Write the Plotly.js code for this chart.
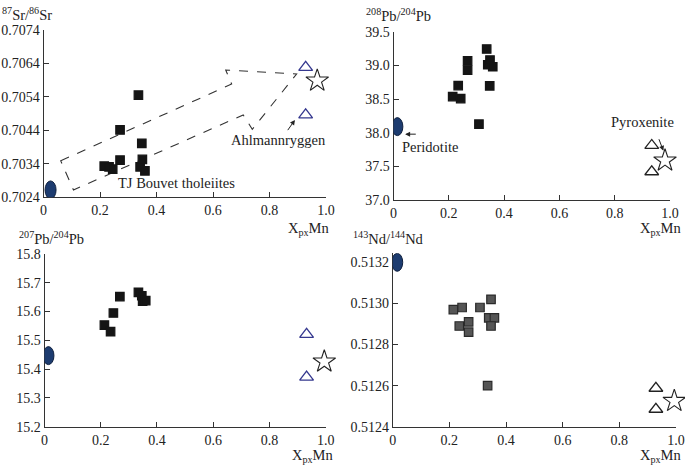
<!DOCTYPE html>
<html>
<head>
<meta charset="utf-8">
<script src="https://cdn.plot.ly/plotly-3.0.1.min.js"></script>
<style>html,body{margin:0;padding:0;background:#fff}#chart{width:685px;height:466px}</style>
</head>
<body>
<div id="chart"></div>
<script>
// ---- Data ----
const xTicks = [0, 0.2, 0.4, 0.6, 0.8, 1.0];
const xTickText = ['0', '0.2', '0.4', '0.6', '0.8', '1.0'];

// TJ Bouvet tholeiites (squares)
const srX = [0.336, 0.271, 0.348, 0.271, 0.350, 0.215, 0.232, 0.245, 0.342, 0.359];
const srY = [0.70545, 0.70441, 0.70401, 0.70351, 0.70353, 0.70333, 0.70331, 0.70324, 0.70331, 0.70319];
const pb8X = [0.214, 0.234, 0.243, 0.268, 0.268, 0.309, 0.337, 0.341, 0.349, 0.348, 0.359];
const pb8Y = [38.537, 38.70, 38.507, 39.068, 38.93, 38.126, 39.243, 39.009, 39.079, 38.696, 38.979];
const pb7X = [0.213, 0.235, 0.245, 0.268, 0.334, 0.346, 0.349, 0.360];
const pb7Y = [15.553, 15.530, 15.595, 15.652, 15.667, 15.655, 15.636, 15.638];
const ndX = [0.214, 0.245, 0.235, 0.268, 0.268, 0.308, 0.347, 0.339, 0.359, 0.347, 0.335];
const ndY = [0.51297, 0.51298, 0.51289, 0.51291, 0.51286, 0.51298, 0.51302, 0.51293, 0.51293, 0.51289, 0.51260];

// Peridotite (ellipse) [x, y] per panel
const peridotiteSr = [0.025, 0.70262];
const peridotitePb8 = [0.014, 38.09];
const peridotitePb7 = [0.014, 15.447];
const peridotiteNd = [0.016, 0.5132];

// Ahlmannryggen (triangles)
const ahlSrX = [0.928, 0.928], ahlSrY = [0.70628, 0.70486];
const ahlPb8X = [0.934, 0.934], ahlPb8Y = [37.81, 37.42];
const ahlPb7X = [0.932, 0.932], ahlPb7Y = [15.521, 15.372];
const ahlNdX = [0.929, 0.929], ahlNdY = [0.512587, 0.512485];

// Pyroxenite (star)
const pyxSr = [0.969, 0.70588];
const pyxPb8 = [0.982, 37.585];
const pyxPb7 = [0.995, 15.426];
const pyxNd = [0.994, 0.512525];

// Dashed arrow outline (panel 1), data coordinates
const arrowPolyX = [0.061, 0.666, 0.645, 0.896, 0.739, 0.707, 0.106];
const arrowPolyY = [0.70349, 0.70578, 0.70620, 0.70608, 0.70443, 0.70486, 0.70262];

// ---- Styles ----
const FONT = 'Liberation Serif';
const FS = 14.5;   // annotation text
const TFS = 14;    // tick labels
const INK = '#222';
const BLUE = '#35388f';

function sq(x, y, ax, fill, line) {
  return {x: x, y: y, xaxis: 'x' + ax, yaxis: 'y' + ax, type: 'scatter', mode: 'markers', cliponaxis: false,
    marker: {symbol: 'square', size: 8.5, color: fill, line: {color: line, width: 1.2}}, hoverinfo: 'skip'};
}
function tri(x, y, ax, col) {
  return {x: x, y: y, xaxis: 'x' + ax, yaxis: 'y' + ax, type: 'scatter', mode: 'markers', cliponaxis: false,
    marker: {symbol: 'triangle-up-open', size: 12, color: col, line: {color: col, width: 1.3}}, hoverinfo: 'skip'};
}
function star(p, ax) {
  return {x: [p[0]], y: [p[1]], xaxis: 'x' + ax, yaxis: 'y' + ax, type: 'scatter', mode: 'markers', cliponaxis: false,
    marker: {symbol: 'star-open', size: 17, color: INK, line: {color: INK, width: 1.1}}, hoverinfo: 'skip'};
}
function ellipse(p, ax) {
  return {type: 'circle', xref: 'x' + ax, yref: 'y' + ax, xsizemode: 'pixel', ysizemode: 'pixel',
    xanchor: p[0], yanchor: p[1], x0: -5.5, x1: 5.5, y0: -9, y1: 9,
    fillcolor: '#1d3c70', line: {color: '#0e1f3d', width: 1}, layer: 'above'};
}

const data = [
  sq(srX, srY, '', '#151515', '#151515'),
  tri(ahlSrX, ahlSrY, '', BLUE),
  star(pyxSr, ''),
  sq(pb8X, pb8Y, '2', '#151515', '#151515'),
  tri(ahlPb8X, ahlPb8Y, '2', INK),
  star(pyxPb8, '2'),
  sq(pb7X, pb7Y, '3', '#151515', '#151515'),
  tri(ahlPb7X, ahlPb7Y, '3', BLUE),
  star(pyxPb7, '3'),
  sq(ndX, ndY, '4', '#555', '#2a2a2a'),
  tri(ahlNdX, ahlNdY, '4', INK),
  star(pyxNd, '4')
];

function xa(dom, anchor) {
  return {domain: dom, anchor: anchor, range: [0, 1], tickvals: xTicks, ticktext: xTickText,
    showline: true, linecolor: '#333', linewidth: 1, ticks: 'inside', ticklen: 5, tickcolor: '#333',
    showgrid: false, zeroline: false, tickfont: {family: FONT, size: TFS, color: INK}, fixedrange: true};
}
function ya(dom, anchor, range, dtick, fmt) {
  return {domain: dom, anchor: anchor, range: range, tick0: range[0], dtick: dtick, tickformat: fmt,
    showline: true, linecolor: '#333', linewidth: 1, ticks: 'inside', ticklen: 5, tickcolor: '#333',
    showgrid: false, zeroline: false, tickfont: {family: FONT, size: TFS, color: INK}, fixedrange: true};
}

let pathD = 'M ' + arrowPolyX.map((x, i) => x + ',' + arrowPolyY[i]).join(' L ') + ' Z';

function txt(text, x, y, xref, yref, xanchor) {
  return {text: text, x: x, y: y, xref: xref, yref: yref, showarrow: false, xanchor: xanchor || 'center', yanchor: 'middle',
    font: {family: FONT, size: FS, color: INK}};
}
function arr(x, y, ax, ay, xr, yr) {
  return {text: '', x: x, y: y, ax: ax, ay: ay, xref: xr, yref: yr, axref: xr, ayref: yr, showarrow: true,
    arrowhead: 2, arrowsize: 1, arrowwidth: 1, arrowcolor: INK};
}

const W = 685, H = 466;
// panel 4: axis top extended by ~9px so the peridotite ellipse at the top is not clipped
const ndTopPad = 0.0002 / 41.1 * 9;
const layout = {
  width: W, height: H, margin: {l: 0, r: 0, t: 0, b: 0}, showlegend: false,
  paper_bgcolor: '#fff', plot_bgcolor: 'rgba(0,0,0,0)',
  font: {family: FONT, size: FS, color: INK},
  xaxis: xa([43.5 / W, 326 / W], 'y'),
  yaxis: ya([1 - 197.3 / H, 1 - 29.8 / H], 'x', [0.7024, 0.7074], 0.001, '.4f'),
  xaxis2: xa([393.5 / W, 670 / W], 'y2'),
  yaxis2: ya([1 - 200 / H, 1 - 31.7 / H], 'x2', [37, 39.5], 0.5, '.1f'),
  xaxis3: xa([44.5 / W, 325.7 / W], 'y3'),
  yaxis3: ya([1 - 426.7 / H, 1 - 254 / H], 'x3', [15.2, 15.8], 0.1, '.1f'),
  xaxis4: xa([392.7 / W, 676 / W], 'y4'),
  yaxis4: ya([1 - 426.7 / H, 1 - 253.3 / H], 'x4', [0.5124, 0.5132 + ndTopPad], 0.0002, '.4f'),
  shapes: [
    {type: 'path', path: pathD, xref: 'x', yref: 'y', line: {color: '#333', width: 1.1, dash: 'dash'}, layer: 'below'},
    ellipse(peridotiteSr, ''), ellipse(peridotitePb8, '2'), ellipse(peridotitePb7, '3'), ellipse(peridotiteNd, '4')
  ],
  annotations: [
    // y titles
    txt('<sup>87</sup>Sr/<sup>86</sup>Sr', 0 / W, 1 - 14 / H, 'paper', 'paper', 'left'),
    txt('<sup>208</sup>Pb/<sup>204</sup>Pb', 364 / W, 1 - 15 / H, 'paper', 'paper', 'left'),
    txt('<sup>207</sup>Pb/<sup>204</sup>Pb', 17 / W, 1 - 238 / H, 'paper', 'paper', 'left'),
    txt('<sup>143</sup>Nd/<sup>144</sup>Nd', 351 / W, 1 - 238 / H, 'paper', 'paper', 'left'),
    // x titles
    txt('X<sub>px</sub>Mn', 332 / W, 1 - 229 / H, 'paper', 'paper', 'right'),
    txt('X<sub>px</sub>Mn', 684 / W, 1 - 229 / H, 'paper', 'paper', 'right'),
    txt('X<sub>px</sub>Mn', 336 / W, 1 - 456 / H, 'paper', 'paper', 'right'),
    txt('X<sub>px</sub>Mn', 684 / W, 1 - 456 / H, 'paper', 'paper', 'right'),
    // labels
    txt('TJ Bouvet tholeiites', 0.4725, 0.70282, 'x', 'y'),
    txt('Ahlmannryggen', 0.8315, 0.70411, 'x', 'y'),
    arr(0.890, 0.70471, 0.861, 0.70436, 'x', 'y'),
    txt('Peridotite', 0.132, 37.79, 'x2', 'y2'),
    arr(0.042, 37.978, 0.086, 37.978, 'x2', 'y2'),
    txt('Pyroxenite', 0.900, 38.156, 'x2', 'y2'),
    arr(0.976, 37.73, 0.958, 37.925, 'x2', 'y2')
  ]
};

Plotly.newPlot('chart', data, layout, {staticPlot: true, displayModeBar: false});
</script>
</body>
</html>
